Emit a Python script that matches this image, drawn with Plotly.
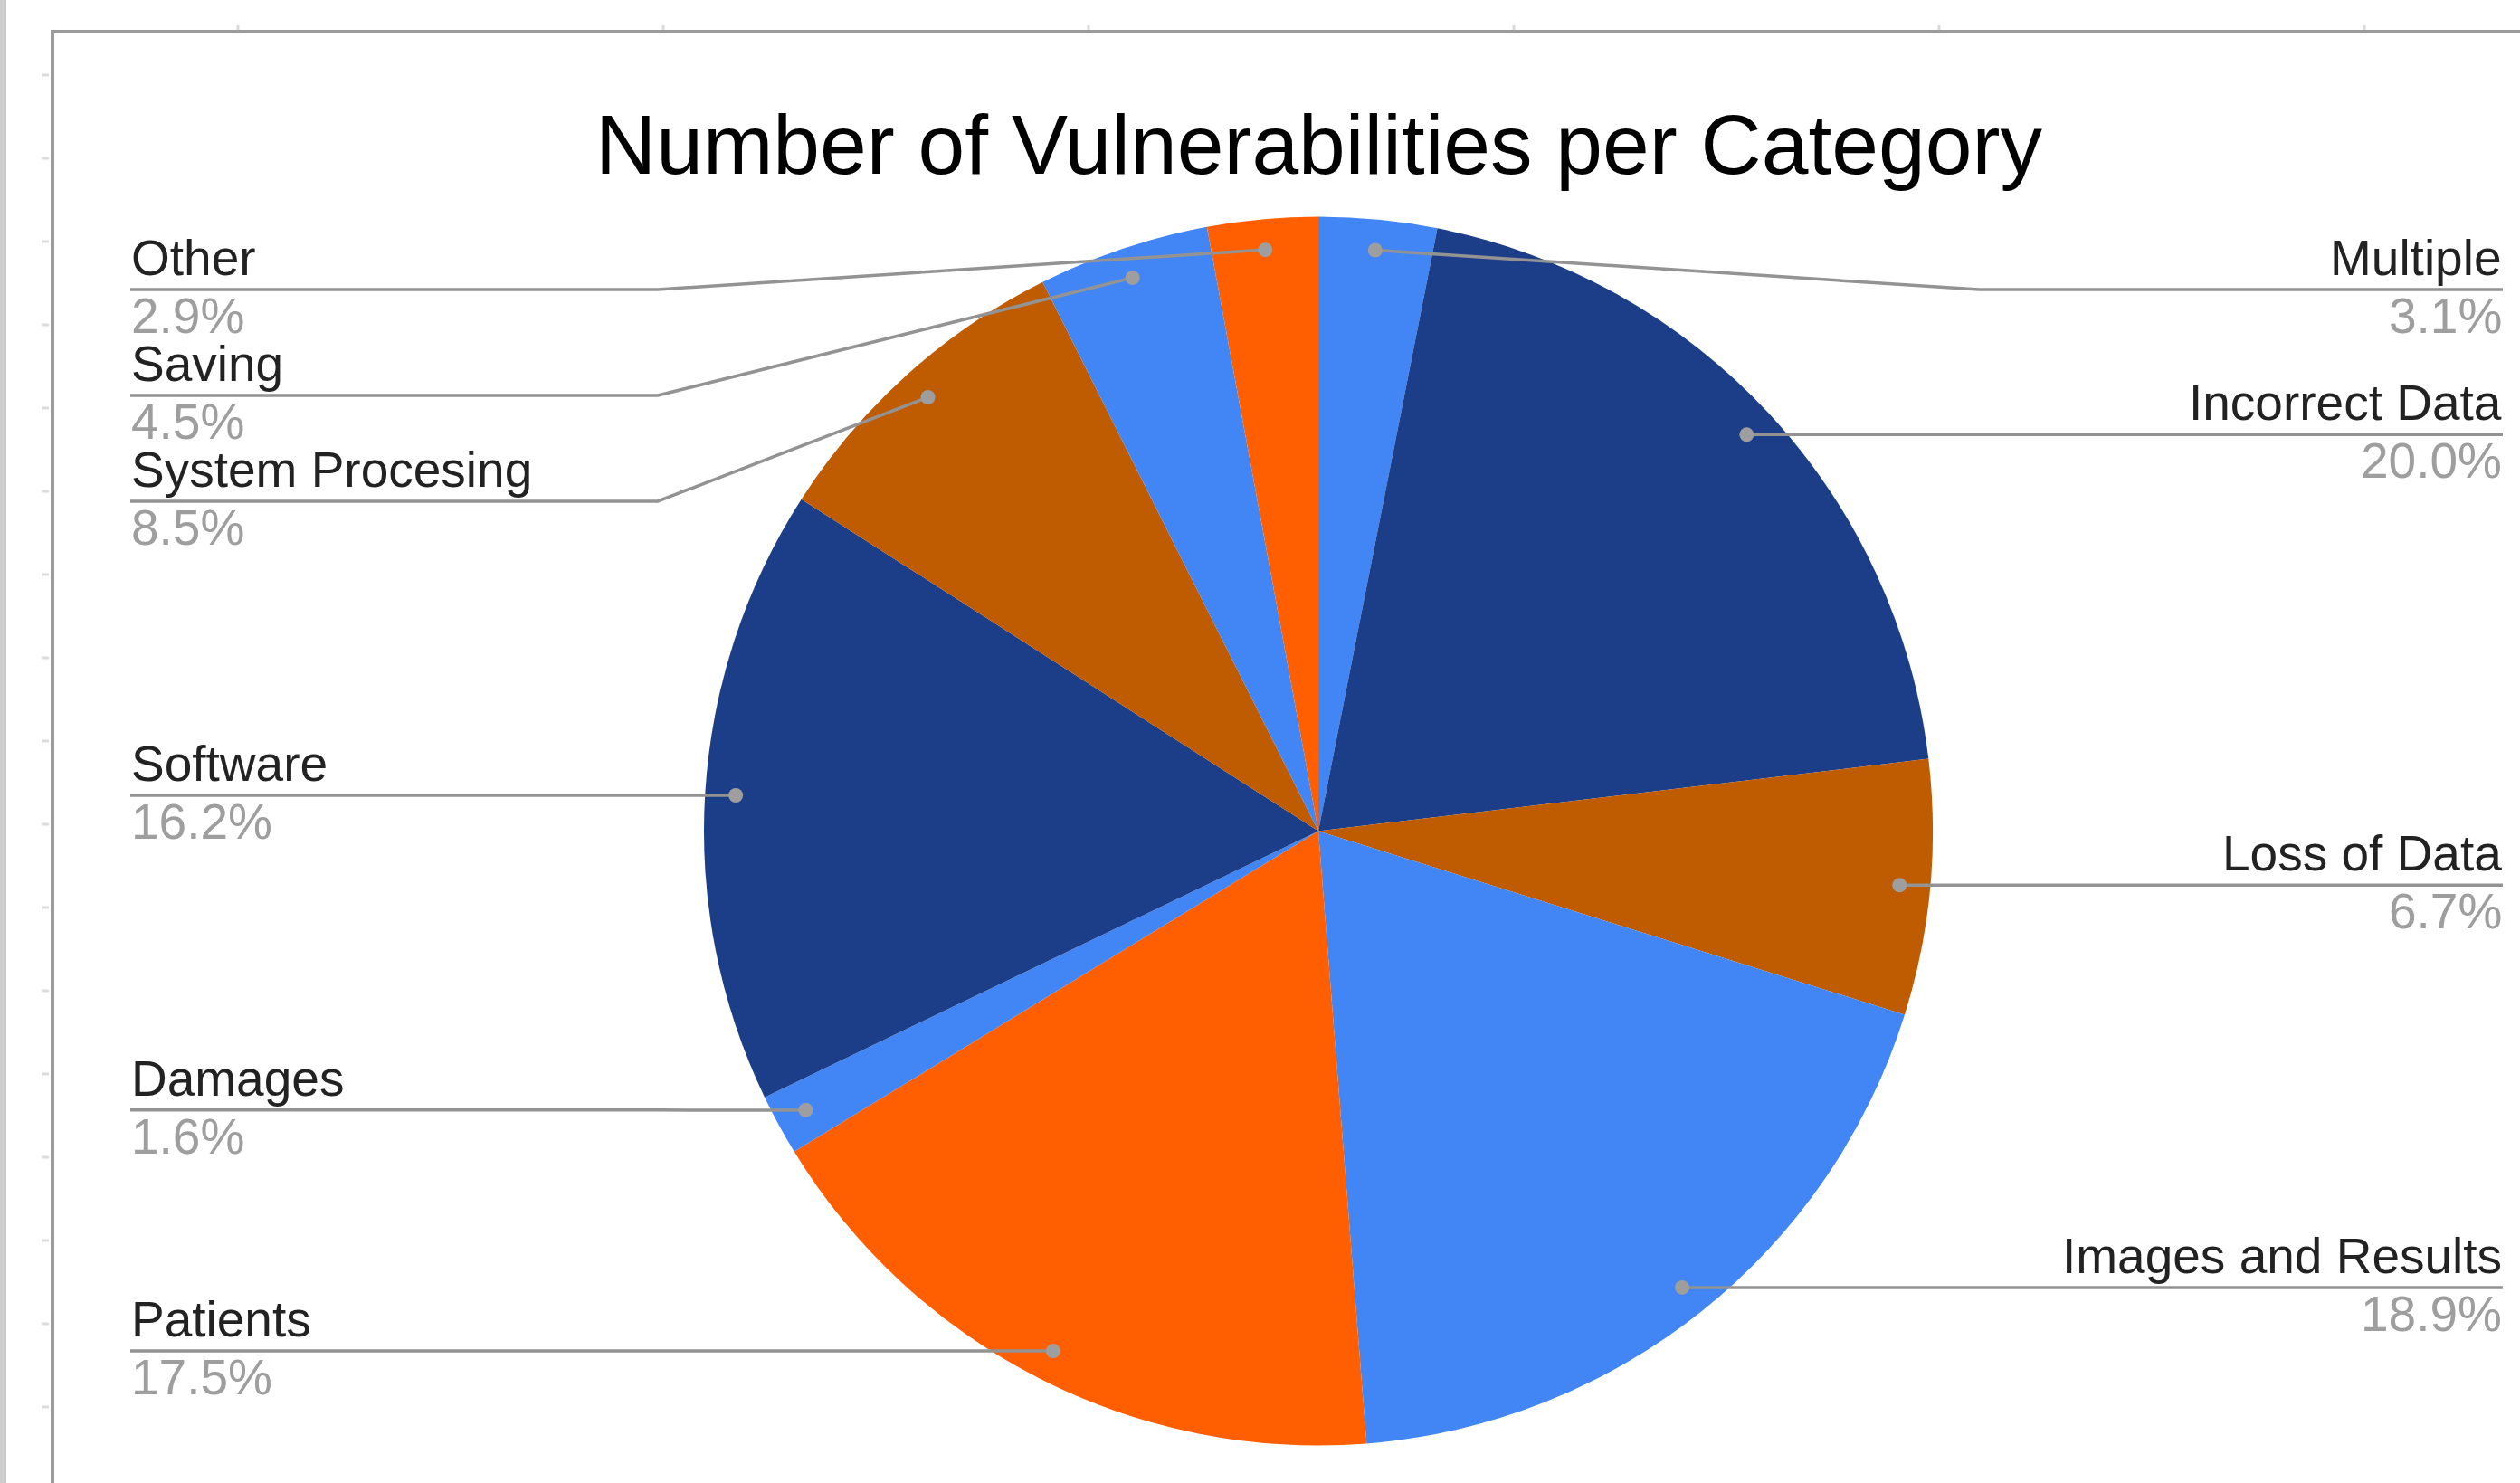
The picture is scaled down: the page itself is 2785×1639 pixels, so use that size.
import math
import plotly.graph_objects as go

# ---- data ----
categories = ["Multiple", "Incorrect Data", "Loss of Data", "Images and Results",
              "Patients", "Damages", "Software", "System Procesing", "Saving", "Other"]
shares = [3.1, 20.0, 6.7, 18.9, 17.5, 1.6, 16.2, 8.5, 4.5, 2.9]
title_text = "Number of Vulnerabilities per Category"

# ---- styling ----
slice_colors = ["#4285F4", "#1C3D87", "#BF5B00", "#4285F4", "#FF5F00",
                "#4285F4", "#1C3D87", "#BF5B00", "#4285F4", "#FF5F00"]
FONT = "Liberation Sans, Arial, sans-serif"
W, H = 2785, 1639
CX, CY, R = 1457.0, 918.5, 679.0       # pie centre / radius in pixels
DOT_F = 0.95                            # leader dot position (fraction of radius)
DOT_R = 8                               # leader dot radius
ELBOW = 730                             # horizontal distance of leader elbow from centre
LEFT_X, RIGHT_X = 144, 2766             # label column edges
TOP_LINE, STEP = 320, 117               # first label line / min gap between labels
LABEL_SIZE, TITLE_SIZE = 55, 93

fig = go.Figure()

# pie, placed in paper coordinates so its radius equals R pixels
fig.add_trace(go.Pie(
    labels=categories, values=shares, sort=False, direction="clockwise",
    rotation=0, marker=dict(colors=slice_colors, line=dict(width=0)),
    textinfo="none", textposition="none", hoverinfo="skip", showlegend=False,
    domain=dict(x=[(CX - R) / W, (CX + R) / W],
                y=[1 - (CY + R) / H, 1 - (CY - R) / H]),
))

# invisible trace so a pixel-based cartesian frame exists for the overlays
fig.add_trace(go.Scatter(x=[0, W], y=[0, H], mode="markers",
                         marker=dict(opacity=0), hoverinfo="skip", showlegend=False))

# ---- leader dots and label layout ----
total = sum(shares)
cum = 0.0
items = []
for name, v in zip(categories, shares):
    theta = (cum + v / 2) / total * 2 * math.pi
    cum += v
    dx = CX + DOT_F * R * math.sin(theta)
    dy = CY - DOT_F * R * math.cos(theta)
    items.append(dict(name=name, pct=v / total * 100, dx=dx, dy=dy,
                      side="right" if math.sin(theta) > 0 else "left"))

for side in ("left", "right"):
    group = sorted([it for it in items if it["side"] == side], key=lambda it: it["dy"])
    prev = None
    for it in group:
        y = max(it["dy"], TOP_LINE if prev is None else prev + STEP)
        it["ly"] = y
        prev = y

shapes = []
annotations = []
LINE_COLOR = "#939393"
for it in items:
    L = it["ly"]
    if it["side"] == "left":
        edge, elbow, anchor = LEFT_X, CX - ELBOW, "left"
    else:
        edge, elbow, anchor = RIGHT_X, CX + ELBOW, "right"
    shapes.append(dict(type="path", xref="x", yref="y", layer="above",
                       path=f"M {edge},{L} L {elbow},{L} L {it['dx']:.1f},{it['dy']:.1f}",
                       line=dict(color=LINE_COLOR, width=3.5)))
    shapes.append(dict(type="circle", xref="x", yref="y", layer="above",
                       x0=it["dx"] - DOT_R, x1=it["dx"] + DOT_R,
                       y0=it["dy"] - DOT_R, y1=it["dy"] + DOT_R,
                       fillcolor="#9E9E9E", line=dict(width=0)))
    annotations.append(dict(x=edge, y=L - 16 - 0.3465 * LABEL_SIZE, xref="x", yref="y",
                            text=it["name"], showarrow=False, xanchor=anchor, yanchor="middle",
                            borderpad=0,
                            font=dict(family=FONT, size=LABEL_SIZE, color="#222222")))
    annotations.append(dict(x=edge, y=L + 48 - 0.3465 * LABEL_SIZE, xref="x", yref="y",
                            text=f"{it['pct']:.1f}%", showarrow=False, xanchor=anchor,
                            yanchor="middle", borderpad=0,
                            font=dict(family=FONT, size=LABEL_SIZE, color="#9E9E9E")))

annotations.append(dict(x=CX, y=192 - 0.3465 * TITLE_SIZE, xref="x", yref="y",
                        text=title_text, showarrow=False, xanchor="center", yanchor="middle",
                        font=dict(family=FONT, size=TITLE_SIZE, color="#000000")))

# ---- sheet frame around the chart ----
shapes.append(dict(type="rect", xref="x", yref="y", layer="below", x0=0, x1=7, y0=0, y1=H,
                   fillcolor="#CDCDCD", line=dict(width=0)))
for ty in range(83, H, 92):
    shapes.append(dict(type="line", xref="x", yref="y", x0=46, x1=54, y0=ty, y1=ty,
                       line=dict(color="#DADADA", width=3)))
for tx in range(263, W, 470):
    shapes.append(dict(type="line", xref="x", yref="y", x0=tx, x1=tx, y0=28, y1=34,
                       line=dict(color="#DADADA", width=3)))
shapes.append(dict(type="path", xref="x", yref="y", layer="above",
                   path=f"M 58,{H} L 58,35 L {W},35",
                   line=dict(color="#9B9B9B", width=4)))

fig.update_layout(
    width=W, height=H, margin=dict(l=0, r=0, t=0, b=0),
    paper_bgcolor="white", plot_bgcolor="white", showlegend=False,
    xaxis=dict(range=[0, W], visible=False, fixedrange=True),
    yaxis=dict(range=[H, 0], visible=False, fixedrange=True),
    shapes=shapes, annotations=annotations,
)

fig.write_html("out.html")
